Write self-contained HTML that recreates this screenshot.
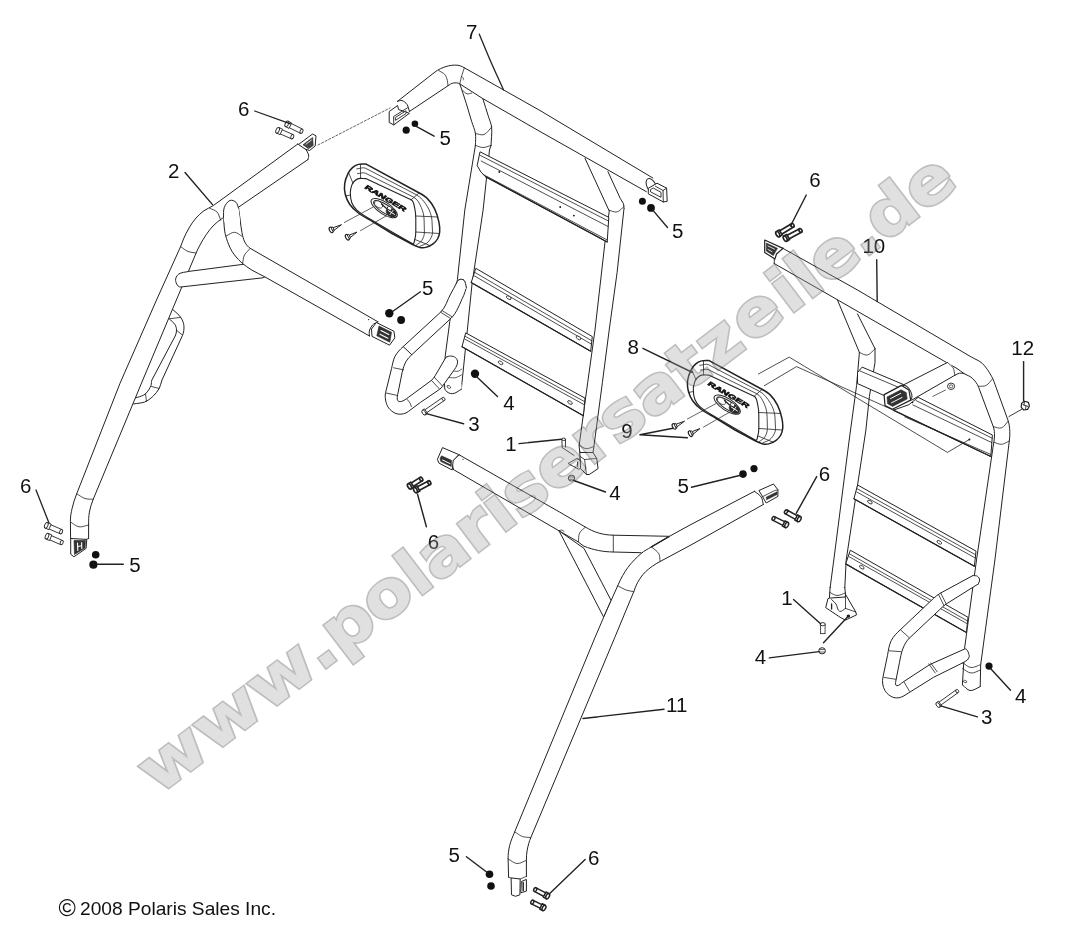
<!DOCTYPE html>
<html><head><meta charset="utf-8"><title>Polaris parts diagram</title>
<style>
html,body{margin:0;padding:0;background:#fff;}
body{width:1092px;height:943px;overflow:hidden;}
svg{display:block;}
svg text{font-family:"Liberation Sans",Arial,sans-serif;fill:#111;}
</style></head><body>
<svg width="1092" height="943" viewBox="0 0 1092 943">
<rect width="1092" height="943" fill="#fff"/>
<g style="opacity:0.999">
<path d="M173.2,309.9C175.7,312.3 178.6,314.3 180.6,317.2C182.3,319.7 183.6,322.5 183.9,325.5C184.2,328.9 183.8,332.5 182.4,335.6L162.0,380.0C160.8,382.6 160.7,385.8 159.3,388.3C157.6,391.3 155.4,394.1 152.8,396.5C150.4,398.7 147.7,400.8 144.6,402.0C141.1,403.3 137.3,403.3 133.6,403.9L131.0,398.5C133.1,398.1 135.2,398.0 137.2,397.4C140.1,396.5 143.2,395.8 145.5,393.8C148.0,391.6 149.6,388.5 151.0,385.5C151.8,383.8 151.0,381.6 151.9,380.0L175.2,336.0C176.1,334.2 176.5,332.1 176.5,330.1C176.5,328.2 176.0,326.2 175.0,324.6C173.6,322.4 171.3,320.9 169.5,319.1Z" fill="#fff" stroke="none"/>
<path d="M173.2,309.9C175.7,312.3 178.6,314.3 180.6,317.2C182.3,319.7 183.6,322.5 183.9,325.5C184.2,328.9 183.8,332.5 182.4,335.6L162.0,380.0C160.8,382.6 160.7,385.8 159.3,388.3C157.6,391.3 155.4,394.1 152.8,396.5C150.4,398.7 147.7,400.8 144.6,402.0C141.1,403.3 137.3,403.3 133.6,403.9" fill="none" stroke="#222" stroke-width="1.0" stroke-linecap="round" stroke-linejoin="round" />
<path d="M169.5,319.1C171.3,320.9 173.6,322.4 175.0,324.6C176.0,326.2 176.5,328.2 176.5,330.1C176.5,332.1 176.1,334.2 175.2,336.0L151.9,380.0C151.0,381.6 151.8,383.8 151.0,385.5C149.6,388.5 148.0,391.6 145.5,393.8C143.2,395.8 140.1,396.5 137.2,397.4C135.2,398.0 133.1,398.1 131.0,398.5" fill="none" stroke="#222" stroke-width="1.0" stroke-linecap="round" stroke-linejoin="round" />
<path d="M169.3,318.8L180.4,317.4" fill="none" stroke="#222" stroke-width="0.8" stroke-linecap="round" stroke-linejoin="round" />
<path d="M176.5,330.3L182.6,335.2" fill="none" stroke="#222" stroke-width="0.8" stroke-linecap="round" stroke-linejoin="round" />
<path d="M151.6,386.5L159.0,388.5" fill="none" stroke="#222" stroke-width="0.8" stroke-linecap="round" stroke-linejoin="round" />
<path d="M145.5,393.8L146.5,401.5" fill="none" stroke="#222" stroke-width="0.8" stroke-linecap="round" stroke-linejoin="round" />
<path d="M297.8,144.0L213.4,205.5C210.5,207.6 206.9,208.6 204.0,210.7C201.1,212.8 198.4,215.3 196.0,218.0C193.3,221.1 191.1,224.5 189.0,228.0C186.9,231.5 185.2,235.3 183.5,239.0C182.4,241.5 181.7,244.1 180.6,246.6L156.5,300.0L120.0,383.3L76.7,493.8C74.8,498.6 73.2,503.4 72.1,508.4C71.1,512.6 70.3,517.0 70.4,521.3L70.6,538.5L88.6,538.5L88.6,525.0C88.6,520.7 88.6,516.3 89.4,512.1C90.2,507.7 91.5,503.4 93.2,499.3L142.8,380.0L196.1,253.0C197.2,250.3 198.6,247.6 200.0,245.0C201.9,241.5 203.9,238.0 206.2,234.7C208.3,231.7 210.4,228.6 213.0,226.0C215.7,223.2 218.8,220.7 222.0,218.5L307.9,159.6Z" fill="#fff" stroke="none"/>
<path d="M297.8,144.0L213.4,205.5C210.5,207.6 206.9,208.6 204.0,210.7C201.1,212.8 198.4,215.3 196.0,218.0C193.3,221.1 191.1,224.5 189.0,228.0C186.9,231.5 185.2,235.3 183.5,239.0C182.4,241.5 181.7,244.1 180.6,246.6L156.5,300.0L120.0,383.3L76.7,493.8C74.8,498.6 73.2,503.4 72.1,508.4C71.1,512.6 70.3,517.0 70.4,521.3L70.6,538.5" fill="none" stroke="#222" stroke-width="1.0" stroke-linecap="round" stroke-linejoin="round" />
<path d="M307.9,159.6L222.0,218.5C218.8,220.7 215.7,223.2 213.0,226.0C210.4,228.6 208.3,231.7 206.2,234.7C203.9,238.0 201.9,241.5 200.0,245.0C198.6,247.6 197.2,250.3 196.1,253.0L142.8,380.0L93.2,499.3C91.5,503.4 90.2,507.7 89.4,512.1C88.6,516.3 88.6,520.7 88.6,525.0L88.6,538.5" fill="none" stroke="#222" stroke-width="1.0" stroke-linecap="round" stroke-linejoin="round" />
<path d="M297.8,144.0C300.0,145.3 302.7,146.1 304.5,148.0C306.4,149.9 307.8,152.4 308.6,155.0C309.0,156.5 308.1,158.1 307.9,159.6" fill="none" stroke="#222" stroke-width="1.0" stroke-linecap="round" stroke-linejoin="round" />
<path d="M209.7,208.3C212.1,209.5 215.1,210.0 217.0,212.0C219.0,214.2 219.5,217.5 220.7,220.2" fill="none" stroke="#222" stroke-width="0.8" stroke-linecap="round" stroke-linejoin="round" />
<path d="M180.6,246.6C183.1,248.2 185.3,250.4 188.0,251.5C190.5,252.5 193.4,252.5 196.1,253.0" fill="none" stroke="#222" stroke-width="0.8" stroke-linecap="round" stroke-linejoin="round" />
<path d="M76.7,493.8C79.5,495.4 82.0,497.5 85.0,498.5C87.6,499.4 90.5,499.0 93.2,499.3" fill="none" stroke="#222" stroke-width="0.8" stroke-linecap="round" stroke-linejoin="round" />
<path d="M70.6,522.0C73.4,523.6 75.8,526.3 79.0,526.8C82.2,527.3 85.4,525.6 88.6,525.0" fill="none" stroke="#222" stroke-width="0.8" stroke-linecap="round" stroke-linejoin="round" />
<path d="M70.6,538.5C73.4,539.5 76.0,541.5 79.0,541.5C82.4,541.5 85.4,539.5 88.6,538.5" fill="none" stroke="#222" stroke-width="0.8" stroke-linecap="round" stroke-linejoin="round" />
<path d="M188.8,271.4L241.1,264.6C246.1,263.9 251.3,266.3 255.8,268.6C259.4,270.5 268.6,275.1 264.9,276.9L263.1,277.8L180.6,287.0C177.9,287.3 176.0,283.3 175.6,280.6C175.3,278.2 176.7,275.5 178.7,274.1C181.6,272.1 185.4,272.3 188.8,271.4Z" fill="#fff" stroke="#222" stroke-width="1.0" stroke-linejoin="round"/>
<path d="M223.5,217.4L224.3,228.0C224.6,231.5 225.3,235.0 226.4,238.3C227.9,242.7 229.5,247.2 231.9,251.2C234.4,255.3 237.6,258.9 241.1,262.2C244.4,265.3 248.2,267.8 252.0,270.2C256.1,272.7 260.7,274.5 264.9,276.9L369.5,336.0L377.9,321.8L250.3,248.4C247.9,247.0 246.1,244.5 244.8,242.0C243.3,239.2 242.7,235.9 242.0,232.8C241.1,228.6 240.8,224.3 240.2,220.0L238.6,208.3Z" fill="#fff" stroke="none"/>
<path d="M223.5,217.4L224.3,228.0C224.6,231.5 225.3,235.0 226.4,238.3C227.9,242.7 229.5,247.2 231.9,251.2C234.4,255.3 237.6,258.9 241.1,262.2C244.4,265.3 248.2,267.8 252.0,270.2C256.1,272.7 260.7,274.5 264.9,276.9L369.5,336.0" fill="none" stroke="#222" stroke-width="1.0" stroke-linecap="round" stroke-linejoin="round" />
<path d="M238.6,208.3L240.2,220.0C240.8,224.3 241.1,228.6 242.0,232.8C242.7,235.9 243.3,239.2 244.8,242.0C246.1,244.5 247.9,247.0 250.3,248.4L377.9,321.8" fill="none" stroke="#222" stroke-width="1.0" stroke-linecap="round" stroke-linejoin="round" />
<path d="M223.5,217.4L224.0,206.5L227.0,202.0L230.0,200.8L234.0,201.2L237.4,204.0L238.6,208.3L240.2,222.0L224.2,222.0Z" fill="#fff" stroke="#222" stroke-width="0" stroke-linejoin="round"/>
<path d="M223.5,217.4C223.8,214.1 223.1,210.6 224.3,207.5C225.4,204.7 227.2,201.7 229.9,200.5C231.8,199.6 234.4,200.9 236.0,202.3C237.6,203.8 237.7,206.3 238.6,208.3" fill="none" stroke="#222" stroke-width="1.0" stroke-linecap="round" stroke-linejoin="round" />
<path d="M226.2,236.0C229.0,234.8 231.5,232.2 234.5,232.3C237.3,232.4 239.5,235.0 242.0,236.3" fill="none" stroke="#222" stroke-width="0.8" stroke-linecap="round" stroke-linejoin="round" />
<path d="M250.3,248.4C248.4,250.6 245.9,252.4 244.5,255.0C243.2,257.5 243.2,260.4 242.6,263.1" fill="none" stroke="#222" stroke-width="0.8" stroke-linecap="round" stroke-linejoin="round" />
<path d="M377.9,321.8C376.1,322.9 373.9,323.5 372.5,325.0C371.0,326.7 369.9,328.8 369.3,331.0C368.9,332.6 369.4,334.3 369.5,336.0" fill="none" stroke="#222" stroke-width="1.0" stroke-linecap="round" stroke-linejoin="round" />
<path d="M376.4,322.5L394.0,331.3L394.8,337.9L389.6,345.2L372.0,336.4L371.5,329.0Z" fill="#fff" stroke="#222" stroke-width="1.0" stroke-linejoin="round"/>
<path d="M379.0,326.0L391.5,332.3L389.8,342.2L376.8,335.8Z" fill="#333" stroke="#222" stroke-width="0.6" stroke-linejoin="round"/>
<path d="M381.0,330.5L388.8,334.5" fill="none" stroke="#fff" stroke-width="1.1" stroke-linecap="round" stroke-linejoin="round" />
<path d="M380.0,334.2L387.8,338.2" fill="none" stroke="#fff" stroke-width="1.1" stroke-linecap="round" stroke-linejoin="round" />
<circle cx="368.7" cy="319.6" r="0.7" fill="#111"/>
<path d="M298.5,144.5L312.5,134.0L316.0,135.8L315.2,146.0L309.5,150.5L305.0,149.0Z" fill="#fff" stroke="#222" stroke-width="1.0" stroke-linejoin="round"/>
<path d="M303.0,144.8L312.6,137.5L313.2,145.5L308.5,148.8Z" fill="#444" stroke="#222" stroke-width="0.6" stroke-linejoin="round"/>
<path d="M306.0,144.2L311.5,140.0" fill="none" stroke="#ddd" stroke-width="1" stroke-linecap="round" stroke-linejoin="round" />
<path d="M70.7,538.5L70.7,554.2L73.9,556.8L86.1,548.4L86.8,539.4Z" fill="#fff" stroke="#222" stroke-width="1.0" stroke-linejoin="round"/>
<path d="M74.0,540.5L85.5,540.5L85.0,548.0L74.5,554.5Z" fill="#333" stroke="#222" stroke-width="0.6" stroke-linejoin="round"/>
<path d="M77.5,543.0L77.8,550.5" fill="none" stroke="#fff" stroke-width="1.1" stroke-linecap="round" stroke-linejoin="round" />
<path d="M81.6,542.5L81.8,548.5" fill="none" stroke="#fff" stroke-width="1.1" stroke-linecap="round" stroke-linejoin="round" />
<path d="M77.6,546.5L81.7,545.8" fill="none" stroke="#fff" stroke-width="1" stroke-linecap="round" stroke-linejoin="round" />
<path d="M318,145 L390,108" fill="none" stroke="#222" stroke-width="0.7" stroke-linecap="round" stroke-linejoin="round" stroke-dasharray="2.2 1.8"/>
<path d="M276.7,132.4L291.4,138.8L293.2,134.6L278.5,128.2Z" fill="#fff" stroke="#222" stroke-width="0.9" stroke-linejoin="round"/>
<ellipse cx="292.3" cy="136.7" rx="1.4" ry="2.3" transform="rotate(23.527063947420913 292.3 136.7)" fill="#fff" stroke="#222" stroke-width="0.9"/>
<path d="M276.4,133.1L280.1,134.6L282.5,129.1L278.8,127.5Z" fill="#fff" stroke="#222" stroke-width="0.9" stroke-linejoin="round"/>
<ellipse cx="277.6" cy="130.3" rx="1.6" ry="3.0" transform="rotate(23.527063947420913 277.6 130.3)" fill="#fff" stroke="#222" stroke-width="0.9"/>
<path d="M285.8,126.0L300.5,133.3L302.5,129.1L287.8,121.8Z" fill="#fff" stroke="#222" stroke-width="0.9" stroke-linejoin="round"/>
<ellipse cx="301.5" cy="131.2" rx="1.4" ry="2.3" transform="rotate(26.408932273219662 301.5 131.2)" fill="#fff" stroke="#222" stroke-width="0.9"/>
<path d="M285.5,126.6L289.0,128.4L291.7,123.0L288.1,121.2Z" fill="#fff" stroke="#222" stroke-width="0.9" stroke-linejoin="round"/>
<ellipse cx="286.8" cy="123.9" rx="1.6" ry="3.0" transform="rotate(26.408932273219662 286.8 123.9)" fill="#fff" stroke="#222" stroke-width="0.9"/>
<path d="M254.7,111.0L290.5,123.9" fill="none" stroke="#222" stroke-width="1.3" stroke-linecap="round" stroke-linejoin="round" />
<path d="M45.4,527.4L60.2,533.8L62.0,529.6L47.2,523.2Z" fill="#fff" stroke="#222" stroke-width="0.9" stroke-linejoin="round"/>
<ellipse cx="61.1" cy="531.7" rx="1.4" ry="2.3" transform="rotate(23.385221057214046 61.1 531.7)" fill="#fff" stroke="#222" stroke-width="0.9"/>
<path d="M45.1,528.1L48.8,529.6L51.2,524.1L47.5,522.5Z" fill="#fff" stroke="#222" stroke-width="0.9" stroke-linejoin="round"/>
<ellipse cx="46.3" cy="525.3" rx="1.6" ry="3.0" transform="rotate(23.385221057214046 46.3 525.3)" fill="#fff" stroke="#222" stroke-width="0.9"/>
<path d="M46.1,538.3L60.8,544.7L62.6,540.5L47.9,534.1Z" fill="#fff" stroke="#222" stroke-width="0.9" stroke-linejoin="round"/>
<ellipse cx="61.7" cy="542.6" rx="1.4" ry="2.3" transform="rotate(23.527063947420896 61.7 542.6)" fill="#fff" stroke="#222" stroke-width="0.9"/>
<path d="M45.8,539.0L49.5,540.5L51.9,535.0L48.2,533.4Z" fill="#fff" stroke="#222" stroke-width="0.9" stroke-linejoin="round"/>
<ellipse cx="47" cy="536.2" rx="1.6" ry="3.0" transform="rotate(23.527063947420896 47 536.2)" fill="#fff" stroke="#222" stroke-width="0.9"/>
<path d="M36.0,490.0L48.9,522.7" fill="none" stroke="#222" stroke-width="1.3" stroke-linecap="round" stroke-linejoin="round" />
<circle cx="95.7" cy="554.8" r="3.8" fill="#111"/>
<circle cx="93.4" cy="564.7" r="4.1" fill="#111"/>
<path d="M97.0,564.2L123.3,564.2" fill="none" stroke="#222" stroke-width="1.4" stroke-linecap="round" stroke-linejoin="round" />
<circle cx="389.3" cy="313.3" r="4.2" fill="#111"/>
<circle cx="401.1" cy="320" r="3.9" fill="#111"/>
<path d="M392.6,311.5L420.4,291.8" fill="none" stroke="#222" stroke-width="1.4" stroke-linecap="round" stroke-linejoin="round" />
<path d="M185.0,172.5L212.5,204.6" fill="none" stroke="#222" stroke-width="1.4" stroke-linecap="round" stroke-linejoin="round" />
<path d="M475.4,145.4L464.8,210.0L457.4,279.7L449.8,321.4L445.2,356.2L444.4,387.4L461.3,389.3L462.0,382.5L472.1,283.4L483.1,210.0L489.5,150.0L491.0,145.4Z" fill="#fff" stroke="none"/>
<path d="M475.4,145.4L464.8,210.0L457.4,279.7L449.8,321.4L445.2,356.2L444.4,387.4" fill="none" stroke="#222" stroke-width="1.0" stroke-linecap="round" stroke-linejoin="round" />
<path d="M491.0,145.4L489.5,150.0L483.1,210.0L472.1,283.4L462.0,382.5L461.3,389.3" fill="none" stroke="#222" stroke-width="1.0" stroke-linecap="round" stroke-linejoin="round" />
<path d="M444.5,384.4C444.8,386.4 444.2,388.9 445.5,390.4C447.2,392.4 450.0,393.9 452.6,393.7C455.8,393.5 459.0,391.8 461.2,389.4C462.4,388.1 461.3,385.8 461.4,384.0Z" fill="#fff" stroke="#222" stroke-width="0" stroke-linejoin="round"/>
<path d="M444.5,384.4C444.8,386.4 444.2,388.9 445.5,390.4C447.2,392.4 450.0,393.9 452.6,393.7C455.8,393.5 458.3,390.8 461.2,389.4" fill="none" stroke="#222" stroke-width="1.0" stroke-linecap="round" stroke-linejoin="round" />
<path d="M454.0,371.0C455.3,371.1 456.7,371.6 458.0,371.3C459.4,370.9 460.5,369.8 461.8,369.0" fill="none" stroke="#222" stroke-width="0.7" stroke-linecap="round" stroke-linejoin="round" />
<path d="M449.2,377.6C451.5,377.6 453.8,378.1 456.0,377.6C458.0,377.1 459.7,375.7 461.6,374.8" fill="none" stroke="#222" stroke-width="0.7" stroke-linecap="round" stroke-linejoin="round" />
<ellipse cx="448.8" cy="386.9" rx="2.0" ry="1.2" transform="rotate(30 448.8 386.9)" fill="#fff" stroke="#222" stroke-width="0.7"/>
<path d="M459.8,83.9C461.9,90.3 464.2,96.7 466.2,103.2C468.1,109.3 469.8,115.5 471.7,121.6C472.9,125.6 474.8,129.4 475.4,133.5C476.0,137.4 475.4,141.4 475.4,145.4L491.0,145.4C491.2,139.3 492.2,133.2 491.6,127.1C491.2,123.3 489.4,119.8 488.3,116.1C486.5,110.3 484.6,104.4 482.8,98.6Z" fill="#fff" stroke="none"/>
<path d="M459.8,83.9C461.9,90.3 464.2,96.7 466.2,103.2C468.1,109.3 469.8,115.5 471.7,121.6C472.9,125.6 474.8,129.4 475.4,133.5C476.0,137.4 475.4,141.4 475.4,145.4" fill="none" stroke="#222" stroke-width="1.0" stroke-linecap="round" stroke-linejoin="round" />
<path d="M482.8,98.6C484.6,104.4 486.5,110.3 488.3,116.1C489.4,119.8 491.2,123.3 491.6,127.1C492.2,133.2 491.2,139.3 491.0,145.4" fill="none" stroke="#222" stroke-width="1.0" stroke-linecap="round" stroke-linejoin="round" />
<path d="M475.4,133.5C478.3,133.8 481.3,135.6 484.0,134.5C487.3,133.2 489.1,129.6 491.6,127.1" fill="none" stroke="#222" stroke-width="0.8" stroke-linecap="round" stroke-linejoin="round" />
<path d="M475.4,145.4C477.9,146.1 480.4,147.5 483.0,147.5C485.8,147.5 488.3,146.1 491.0,145.4" fill="none" stroke="#222" stroke-width="0.8" stroke-linecap="round" stroke-linejoin="round" />
<path d="M462.6,90.4C464.1,91.5 465.2,93.3 467.0,93.8C468.5,94.3 470.1,93.3 471.7,93.1" fill="none" stroke="#222" stroke-width="0.8" stroke-linecap="round" stroke-linejoin="round" />
<path d="M609.4,210.1L605.1,241.2L595.0,330.0L587.7,382.5L579.1,445.8L579.8,452.5L593.0,452.5L593.8,447.2L602.4,382.5L609.2,330.0L617.1,272.5L624.0,208.5Z" fill="#fff" stroke="none"/>
<path d="M609.4,210.1L605.1,241.2L595.0,330.0L587.7,382.5L579.1,445.8L579.8,452.5" fill="none" stroke="#222" stroke-width="1.0" stroke-linecap="round" stroke-linejoin="round" />
<path d="M624.0,208.5L617.1,272.5L609.2,330.0L602.4,382.5L593.8,447.2L593.0,452.5" fill="none" stroke="#222" stroke-width="1.0" stroke-linecap="round" stroke-linejoin="round" />
<path d="M585.0,158.3L608.8,210.1L624.0,208.5C623.8,206.8 624.0,205.1 623.4,203.5C622.7,201.7 621.1,200.3 620.3,198.5L607.9,171.6Z" fill="#fff" stroke="none"/>
<path d="M585.0,158.3L608.8,210.1" fill="none" stroke="#222" stroke-width="1.0" stroke-linecap="round" stroke-linejoin="round" />
<path d="M607.9,171.6L620.3,198.5C621.1,200.3 622.7,201.7 623.4,203.5C624.0,205.1 623.8,206.8 624.0,208.5" fill="none" stroke="#222" stroke-width="1.0" stroke-linecap="round" stroke-linejoin="round" />
<path d="M608.8,210.1C611.6,210.7 614.3,212.6 617.1,211.9C620.0,211.2 621.7,208.2 624.0,206.4" fill="none" stroke="#222" stroke-width="0.8" stroke-linecap="round" stroke-linejoin="round" />
<path d="M480.0,151.8L608.8,217.4L607.2,242.0L485.5,176.6L480.9,172.0L477.2,165.6Z" fill="#fff" stroke="#222" stroke-width="1.0" stroke-linejoin="round"/>
<path d="M607.2,242.0L485.5,176.6" fill="none" stroke="#222" stroke-width="1.3" stroke-linecap="round" stroke-linejoin="round" />
<path d="M480.5,155.5L608.6,221.1" fill="none" stroke="#222" stroke-width="0.8" stroke-linecap="round" stroke-linejoin="round" />
<path d="M481.2,161.0L608.2,226.6" fill="none" stroke="#222" stroke-width="0.8" stroke-linecap="round" stroke-linejoin="round" />
<path d="M483.0,174.4L607.3,240.0" fill="none" stroke="#222" stroke-width="0.8" stroke-linecap="round" stroke-linejoin="round" />
<circle cx="499.3" cy="172" r="0.9" fill="#111"/>
<circle cx="560.2" cy="207" r="0.9" fill="#111"/>
<circle cx="573.9" cy="215.6" r="0.9" fill="#111"/>
<path d="M475.8,268.3L592.3,336.6L590.7,351.2L471.2,282.5Z" fill="#fff" stroke="#222" stroke-width="1.0" stroke-linejoin="round"/>
<path d="M590.7,351.2L471.2,282.5" fill="none" stroke="#222" stroke-width="1.3" stroke-linecap="round" stroke-linejoin="round" />
<path d="M475.0,272.5L591.8,340.8" fill="none" stroke="#222" stroke-width="0.8" stroke-linecap="round" stroke-linejoin="round" />
<path d="M474.4,275.9L591.5,344.2" fill="none" stroke="#222" stroke-width="0.8" stroke-linecap="round" stroke-linejoin="round" />
<ellipse cx="508.8" cy="297.7" rx="2.6" ry="1.4" transform="rotate(32 508.8 297.7)" fill="#fff" stroke="#222" stroke-width="0.8"/>
<ellipse cx="578.5" cy="337.9" rx="2.6" ry="1.4" transform="rotate(32 578.5 337.9)" fill="#fff" stroke="#222" stroke-width="0.8"/>
<path d="M465.7,332.9L585.0,398.1L583.4,415.7L462.0,346.7Z" fill="#fff" stroke="#222" stroke-width="1.0" stroke-linejoin="round"/>
<path d="M583.4,415.7L462.0,346.7" fill="none" stroke="#222" stroke-width="1.3" stroke-linecap="round" stroke-linejoin="round" />
<path d="M465.2,336.3L584.7,401.7" fill="none" stroke="#222" stroke-width="0.8" stroke-linecap="round" stroke-linejoin="round" />
<path d="M464.9,339.1L584.4,404.8" fill="none" stroke="#222" stroke-width="0.8" stroke-linecap="round" stroke-linejoin="round" />
<ellipse cx="500.6" cy="362.8" rx="2.6" ry="1.4" transform="rotate(32 500.6 362.8)" fill="#fff" stroke="#222" stroke-width="0.8"/>
<ellipse cx="570" cy="402.5" rx="2.6" ry="1.4" transform="rotate(32 570 402.5)" fill="#fff" stroke="#222" stroke-width="0.8"/>
<path d="M397.4,101.4L435.0,72.0C438.3,69.5 442.2,67.7 446.1,66.5C449.6,65.4 453.4,64.9 457.1,65.2C459.7,65.4 462.2,66.5 464.4,67.8L540.0,110.5L652.8,178.0L646.4,191.7L540.0,131.5L482.8,98.6L459.8,83.9C458.0,82.7 455.5,82.7 453.4,83.0C451.4,83.3 449.6,84.7 447.9,85.8L409.4,111.5Z" fill="#fff" stroke="none"/>
<path d="M397.4,101.4L435.0,72.0C438.3,69.5 442.2,67.7 446.1,66.5C449.6,65.4 453.4,64.9 457.1,65.2C459.7,65.4 462.2,66.5 464.4,67.8L540.0,110.5L652.8,178.0" fill="none" stroke="#222" stroke-width="1.0" stroke-linecap="round" stroke-linejoin="round" />
<path d="M409.4,111.5L447.9,85.8C449.6,84.7 451.4,83.3 453.4,83.0C455.5,82.7 458.0,82.7 459.8,83.9L482.8,98.6L540.0,131.5L646.4,191.7" fill="none" stroke="#222" stroke-width="1.0" stroke-linecap="round" stroke-linejoin="round" />
<path d="M438.7,70.6C440.7,71.9 443.2,72.7 444.8,74.5C446.2,76.1 446.8,78.4 447.4,80.5C447.9,82.2 447.7,84.0 447.9,85.8" fill="none" stroke="#222" stroke-width="0.8" stroke-linecap="round" stroke-linejoin="round" />
<path d="M464.4,67.8C463.5,70.4 462.5,73.0 461.7,75.7C460.9,78.4 460.4,81.2 459.8,83.9" fill="none" stroke="#222" stroke-width="0.8" stroke-linecap="round" stroke-linejoin="round" />
<path d="M461.5,76.5L463.5,78.0L463.2,80.0" fill="none" stroke="#222" stroke-width="0.6" stroke-linecap="round" stroke-linejoin="round" />
<path d="M397.4,101.4C398.9,101.1 400.5,100.0 402.0,100.5C404.0,101.2 405.8,102.7 407.0,104.5C408.4,106.5 408.6,109.2 409.4,111.5" fill="none" stroke="#222" stroke-width="1.0" stroke-linecap="round" stroke-linejoin="round" />
<path d="M389.2,111.5L397.6,105.5L398.5,109.5L409.4,113.3L393.8,124.9L389.2,122.5Z" fill="#fff" stroke="#222" stroke-width="1.0" stroke-linejoin="round"/>
<path d="M393.8,124.9L393.6,116.5L407.5,107.8" fill="none" stroke="#222" stroke-width="0.9" stroke-linecap="round" stroke-linejoin="round" />
<path d="M395.3,117.5L406.0,110.8L406.0,113.6L395.5,120.3Z" fill="#fff" stroke="#222" stroke-width="0.9" stroke-linejoin="round"/>
<ellipse cx="651.3" cy="185.6" rx="4.4" ry="7.6" transform="rotate(-28 651.3 185.6)" fill="#fff" stroke="#222" stroke-width="1.0"/>
<path d="M648.3,188.3L657.0,183.2L666.6,188.1L667.2,201.3L663.3,202.0L648.3,193.8Z" fill="#fff" stroke="#222" stroke-width="1.0" stroke-linejoin="round"/>
<path d="M663.3,202.0L663.0,190.5L666.6,188.1" fill="none" stroke="#222" stroke-width="0.9" stroke-linecap="round" stroke-linejoin="round" />
<path d="M663.0,190.5L655.5,186.3" fill="none" stroke="#222" stroke-width="0.9" stroke-linecap="round" stroke-linejoin="round" />
<path d="M650.5,189.6L653.2,188.0L661.0,192.3L661.0,197.3L650.5,191.8Z" fill="#fff" stroke="#222" stroke-width="0.9" stroke-linejoin="round"/>
<path d="M456.2,283.8C454.4,287.2 452.5,290.5 450.7,293.9C447.3,300.0 445.7,307.5 440.6,312.2L403.2,346.6C400.1,349.4 397.1,352.5 395.1,356.2C393.1,359.9 392.6,364.2 391.6,368.3L385.6,392.5C384.8,395.7 385.3,399.3 386.1,402.5C386.8,405.1 388.1,407.7 390.1,409.6C392.3,411.7 395.1,413.8 398.2,414.1C401.6,414.5 405.5,413.7 408.2,411.6L420.3,402.5L439.5,389.4C441.7,387.9 443.0,385.5 444.5,383.4L454.6,369.3C456.1,367.2 457.4,364.8 457.6,362.2C457.7,360.6 456.8,358.8 455.6,357.7C454.3,356.5 452.3,356.1 450.5,356.0C448.9,355.9 447.5,356.8 446.0,357.2L446.0,357.2L435.4,375.3C434.3,377.2 433.1,379.1 431.4,380.4L408.2,397.5C406.0,399.1 403.8,400.8 401.2,401.5C400.0,401.8 398.2,401.6 397.7,400.5C396.8,398.7 397.3,396.5 397.7,394.5L402.2,372.3C403.0,368.4 404.3,364.7 406.2,361.2C407.6,358.7 409.7,356.6 411.8,354.7L450.7,318.6C457.1,312.6 459.7,303.5 463.6,295.7C464.9,293.1 465.4,290.2 466.3,287.4Z" fill="#fff" stroke="none"/>
<path d="M456.2,283.8C454.4,287.2 452.5,290.5 450.7,293.9C447.3,300.0 445.7,307.5 440.6,312.2L403.2,346.6C400.1,349.4 397.1,352.5 395.1,356.2C393.1,359.9 392.6,364.2 391.6,368.3L385.6,392.5C384.8,395.7 385.3,399.3 386.1,402.5C386.8,405.1 388.1,407.7 390.1,409.6C392.3,411.7 395.1,413.8 398.2,414.1C401.6,414.5 405.5,413.7 408.2,411.6L420.3,402.5L439.5,389.4C441.7,387.9 443.0,385.5 444.5,383.4L454.6,369.3C456.1,367.2 457.4,364.8 457.6,362.2C457.7,360.6 456.8,358.8 455.6,357.7C454.3,356.5 452.3,356.1 450.5,356.0C448.9,355.9 447.5,356.8 446.0,357.2" fill="none" stroke="#222" stroke-width="1.0" stroke-linecap="round" stroke-linejoin="round" />
<path d="M466.3,287.4C465.4,290.2 464.9,293.1 463.6,295.7C459.7,303.5 457.1,312.6 450.7,318.6L411.8,354.7C409.7,356.6 407.6,358.7 406.2,361.2C404.3,364.7 403.0,368.4 402.2,372.3L397.7,394.5C397.3,396.5 396.8,398.7 397.7,400.5C398.2,401.6 400.0,401.8 401.2,401.5C403.8,400.8 406.0,399.1 408.2,397.5L431.4,380.4C433.1,379.1 434.3,377.2 435.4,375.3L446.0,357.2" fill="none" stroke="#222" stroke-width="1.0" stroke-linecap="round" stroke-linejoin="round" />
<path d="M456.2,283.8C457.1,282.5 457.5,280.5 459.0,279.8C460.5,279.1 462.8,279.1 464.0,280.3C465.7,282.1 465.5,285.0 466.3,287.4" fill="none" stroke="#222" stroke-width="1.0" stroke-linecap="round" stroke-linejoin="round" />
<path d="M456.2,283.8C457.1,282.5 457.5,280.5 459.0,279.8C460.5,279.1 462.8,279.1 464.0,280.3C465.7,282.1 467.1,285.0 466.3,287.4C465.5,289.9 462.1,290.5 460.0,292.0Z" fill="#fff" stroke="#222" stroke-width="0" stroke-linejoin="round"/>
<path d="M456.2,283.8C457.1,282.5 457.5,280.5 459.0,279.8C460.5,279.1 462.8,279.1 464.0,280.3C465.7,282.1 465.5,285.0 466.3,287.4" fill="none" stroke="#222" stroke-width="1.0" stroke-linecap="round" stroke-linejoin="round" />
<path d="M440.6,312.2L450.7,318.6" fill="none" stroke="#222" stroke-width="0.8" stroke-linecap="round" stroke-linejoin="round" />
<path d="M442.0,310.5L452.0,316.8" fill="none" stroke="#222" stroke-width="0.8" stroke-linecap="round" stroke-linejoin="round" />
<path d="M403.2,346.6L411.8,354.7" fill="none" stroke="#222" stroke-width="1.0" stroke-linecap="round" stroke-linejoin="round" />
<path d="M393.6,367.8L403.7,369.8" fill="none" stroke="#222" stroke-width="0.8" stroke-linecap="round" stroke-linejoin="round" />
<path d="M386.1,393.0L397.7,395.5" fill="none" stroke="#222" stroke-width="0.8" stroke-linecap="round" stroke-linejoin="round" />
<path d="M407.2,399.5C408.1,400.7 409.3,401.7 410.0,403.0C410.6,404.1 410.9,405.4 411.3,406.6" fill="none" stroke="#222" stroke-width="0.8" stroke-linecap="round" stroke-linejoin="round" />
<path d="M431.4,380.4L439.5,389.0" fill="none" stroke="#222" stroke-width="0.8" stroke-linecap="round" stroke-linejoin="round" />
<path d="M434.4,377.3L442.5,386.0" fill="none" stroke="#222" stroke-width="0.8" stroke-linecap="round" stroke-linejoin="round" />
<circle cx="406.2" cy="130.2" r="3.6" fill="#111"/>
<circle cx="414.9" cy="123.8" r="3.3" fill="#111"/>
<path d="M415.8,126.1L434.1,136.2" fill="none" stroke="#222" stroke-width="1.4" stroke-linecap="round" stroke-linejoin="round" />
<circle cx="642.4" cy="201.3" r="3.5" fill="#111"/>
<circle cx="651" cy="207.9" r="3.9" fill="#111"/>
<path d="M652.8,210.1L667.5,227.5" fill="none" stroke="#222" stroke-width="1.4" stroke-linecap="round" stroke-linejoin="round" />
<circle cx="475" cy="373.8" r="4.2" fill="#111"/>
<path d="M476.4,376.4L497.5,396.6" fill="none" stroke="#222" stroke-width="1.4" stroke-linecap="round" stroke-linejoin="round" />
<path d="M424.9,414.0L444.5,400.4L442.5,397.6L422.9,411.2Z" fill="#fff" stroke="#222" stroke-width="0.9" stroke-linejoin="round"/>
<ellipse cx="443.5" cy="399" rx="1.4" ry="1.7" transform="rotate(-34.755912553541386 443.5 399)" fill="#fff" stroke="#222" stroke-width="0.9"/>
<path d="M425.5,414.9L427.6,413.4L424.4,408.8L422.3,410.3Z" fill="#fff" stroke="#222" stroke-width="0.9" stroke-linejoin="round"/>
<ellipse cx="423.9" cy="412.6" rx="1.6" ry="2.8" transform="rotate(-34.755912553541386 423.9 412.6)" fill="#fff" stroke="#222" stroke-width="0.9"/>
<path d="M426.4,413.6L463.6,423.7" fill="none" stroke="#222" stroke-width="1.4" stroke-linecap="round" stroke-linejoin="round" />
<path d="M479.3,34.2C483.0,43.1 486.6,52.1 490.5,61.0C494.7,70.7 499.2,80.3 503.5,89.9" fill="none" stroke="#222" stroke-width="1.3" stroke-linecap="round" stroke-linejoin="round" />
<path d="M559.0,530.8L603.7,617.2L611.1,600.4L584.0,548.4Z" fill="#fff" stroke="#222" stroke-width="1.0" stroke-linejoin="round"/>
<path d="M459.3,454.9L559.7,512.1L585.4,527.1C589.6,529.5 594.0,531.7 598.6,533.0C603.4,534.4 608.3,535.1 613.3,535.2L668.9,536.3L641.1,552.7L613.3,552.0C608.4,551.9 603.4,551.5 598.6,550.5C593.6,549.5 588.7,548.2 584.0,546.2C581.7,545.2 580.2,543.0 578.1,541.8L559.0,530.8L453.5,469.6Z" fill="#fff" stroke="none"/>
<path d="M459.3,454.9L559.7,512.1L585.4,527.1C589.6,529.5 594.0,531.7 598.6,533.0C603.4,534.4 608.3,535.1 613.3,535.2L668.9,536.3" fill="none" stroke="#222" stroke-width="1.0" stroke-linecap="round" stroke-linejoin="round" />
<path d="M453.5,469.6L559.0,530.8L578.1,541.8C580.2,543.0 581.7,545.2 584.0,546.2C588.7,548.2 593.6,549.5 598.6,550.5C603.4,551.5 608.4,551.9 613.3,552.0L641.1,552.7" fill="none" stroke="#222" stroke-width="1.0" stroke-linecap="round" stroke-linejoin="round" />
<path d="M459.3,454.9C457.1,457.1 453.8,458.6 452.6,461.5C451.6,464.0 453.2,466.9 453.5,469.6" fill="none" stroke="#222" stroke-width="1.0" stroke-linecap="round" stroke-linejoin="round" />
<path d="M585.4,527.1C583.5,529.1 580.8,530.5 579.6,533.0C578.3,535.7 578.8,538.9 578.4,541.8" fill="none" stroke="#222" stroke-width="0.8" stroke-linecap="round" stroke-linejoin="round" />
<path d="M613.3,535.2L613.3,552.0" fill="none" stroke="#222" stroke-width="0.8" stroke-linecap="round" stroke-linejoin="round" />
<path d="M559.0,530.8C559.8,530.5 560.6,529.9 561.5,530.0C562.5,530.1 563.2,531.0 564.0,531.5" fill="none" stroke="#222" stroke-width="0.8" stroke-linecap="round" stroke-linejoin="round" />
<path d="M442.5,447.6L458.8,454.6L453.2,460.5L452.2,470.0L438.8,463.0L437.4,459.3Z" fill="#fff" stroke="#222" stroke-width="1.0" stroke-linejoin="round"/>
<path d="M440.0,458.5L441.5,455.8L451.5,460.3L451.3,466.6L440.8,461.6Z" fill="#333" stroke="#222" stroke-width="0.5" stroke-linejoin="round"/>
<path d="M442.5,460.0L450.0,463.6" fill="none" stroke="#fff" stroke-width="1" stroke-linecap="round" stroke-linejoin="round" />
<circle cx="463" cy="459.3" r="0.6" fill="#111"/>
<path d="M754.5,491.3L690.0,525.0L668.9,536.6L651.4,546.9C647.9,549.0 644.2,550.8 641.1,553.5C636.3,557.7 631.7,562.3 627.9,567.4C624.1,572.6 621.0,578.3 618.4,584.2L603.7,617.2L594.9,637.7L514.7,831.8C512.8,836.4 510.8,840.9 509.6,845.7C508.6,850.0 508.0,854.5 508.1,858.9L508.6,877.2L526.4,876.4L526.4,860.3C526.4,856.9 526.6,853.4 527.2,850.1C528.0,845.8 529.1,841.6 530.8,837.6L614.7,637.7L633.8,591.6C635.0,588.7 635.8,585.5 637.4,582.8C639.7,578.9 642.2,574.9 645.5,571.8C649.8,567.7 654.8,564.3 660.1,561.5L690.0,545.5L763.3,504.5Z" fill="#fff" stroke="none"/>
<path d="M754.5,491.3L690.0,525.0L668.9,536.6L651.4,546.9C647.9,549.0 644.2,550.8 641.1,553.5C636.3,557.7 631.7,562.3 627.9,567.4C624.1,572.6 621.0,578.3 618.4,584.2L603.7,617.2L594.9,637.7L514.7,831.8C512.8,836.4 510.8,840.9 509.6,845.7C508.6,850.0 508.0,854.5 508.1,858.9L508.6,877.2" fill="none" stroke="#222" stroke-width="1.0" stroke-linecap="round" stroke-linejoin="round" />
<path d="M763.3,504.5L690.0,545.5L660.1,561.5C654.8,564.3 649.8,567.7 645.5,571.8C642.2,574.9 639.7,578.9 637.4,582.8C635.8,585.5 635.0,588.7 633.8,591.6L614.7,637.7L530.8,837.6C529.1,841.6 528.0,845.8 527.2,850.1C526.6,853.4 526.4,856.9 526.4,860.3L526.4,876.4" fill="none" stroke="#222" stroke-width="1.0" stroke-linecap="round" stroke-linejoin="round" />
<path d="M754.5,491.3C756.7,493.2 759.6,494.6 761.2,497.1C762.6,499.2 762.6,502.0 763.3,504.5" fill="none" stroke="#222" stroke-width="1.0" stroke-linecap="round" stroke-linejoin="round" />
<path d="M651.4,546.9C653.8,549.1 657.0,550.7 658.7,553.5C660.1,555.8 659.6,558.8 660.1,561.5" fill="none" stroke="#222" stroke-width="0.8" stroke-linecap="round" stroke-linejoin="round" />
<path d="M651.4,546.9L668.9,536.6" fill="none" stroke="#222" stroke-width="1.3" stroke-linecap="round" stroke-linejoin="round" />
<path d="M617.7,585.7C620.5,587.1 623.1,588.9 626.0,590.0C628.5,590.9 631.2,591.1 633.8,591.6" fill="none" stroke="#222" stroke-width="0.8" stroke-linecap="round" stroke-linejoin="round" />
<path d="M514.7,831.8C517.3,833.4 519.6,835.5 522.5,836.5C525.1,837.4 528.0,837.2 530.8,837.6" fill="none" stroke="#222" stroke-width="0.8" stroke-linecap="round" stroke-linejoin="round" />
<path d="M508.1,858.9C511.1,860.4 513.7,863.2 517.0,863.5C520.3,863.8 523.3,861.4 526.4,860.3" fill="none" stroke="#222" stroke-width="0.8" stroke-linecap="round" stroke-linejoin="round" />
<path d="M508.6,877.2C511.4,878.0 514.1,879.7 517.0,879.6C520.3,879.5 523.3,877.5 526.4,876.4" fill="none" stroke="#222" stroke-width="0.8" stroke-linecap="round" stroke-linejoin="round" />
<path d="M758.9,490.5L773.5,484.0L777.9,489.8L777.9,496.4L766.2,503.0L762.5,496.5Z" fill="#fff" stroke="#222" stroke-width="1.0" stroke-linejoin="round"/>
<path d="M762.0,497.0L774.5,490.6L777.9,489.8" fill="none" stroke="#222" stroke-width="0.8" stroke-linecap="round" stroke-linejoin="round" />
<path d="M766.2,497.2L777.0,491.8L777.0,494.6L766.6,499.8Z" fill="#333" stroke="#222" stroke-width="0.5" stroke-linejoin="round"/>
<path d="M511.1,877.9L511.5,894.8L515.5,896.3L519.9,894.8L520.2,879.0Z" fill="#fff" stroke="#222" stroke-width="1.0" stroke-linejoin="round"/>
<path d="M521.3,881.6L526.4,879.4L526.4,891.1L520.8,892.8Z" fill="#fff" stroke="#222" stroke-width="1.0" stroke-linejoin="round"/>
<path d="M523.2,882.5L523.2,890.5" fill="none" stroke="#333" stroke-width="1.6" stroke-linecap="round" stroke-linejoin="round" />
<circle cx="743" cy="474.1" r="3.8" fill="#111"/>
<circle cx="754" cy="468.6" r="3.6" fill="#111"/>
<path d="M691.5,487.2L740.5,475.2" fill="none" stroke="#222" stroke-width="1.4" stroke-linecap="round" stroke-linejoin="round" />
<circle cx="489.5" cy="874.2" r="3.8" fill="#111"/>
<circle cx="491" cy="886" r="3.8" fill="#111"/>
<path d="M466.4,856.7L487.6,872.8" fill="none" stroke="#222" stroke-width="1.4" stroke-linecap="round" stroke-linejoin="round" />
<path d="M410.6,488.1L422.3,480.8L420.1,477.4L408.4,484.7Z" fill="#fff" stroke="#222" stroke-width="1.7" stroke-linejoin="round"/>
<ellipse cx="421.2" cy="479.1" rx="1.4" ry="2.0" transform="rotate(-31.9613434169769 421.2 479.1)" fill="#fff" stroke="#222" stroke-width="1.7"/>
<path d="M411.0,488.9L413.9,487.1L410.8,482.1L408.0,483.9Z" fill="#fff" stroke="#222" stroke-width="1.7" stroke-linejoin="round"/>
<ellipse cx="409.5" cy="486.4" rx="1.6" ry="2.9" transform="rotate(-31.9613434169769 409.5 486.4)" fill="#fff" stroke="#222" stroke-width="1.7"/>
<path d="M416.3,491.9L430.2,484.5L428.4,480.9L414.5,488.3Z" fill="#fff" stroke="#222" stroke-width="1.7" stroke-linejoin="round"/>
<ellipse cx="429.3" cy="482.7" rx="1.4" ry="2.0" transform="rotate(-28.029680982283413 429.3 482.7)" fill="#fff" stroke="#222" stroke-width="1.7"/>
<path d="M416.8,492.7L419.8,491.1L417.0,485.9L414.0,487.5Z" fill="#fff" stroke="#222" stroke-width="1.7" stroke-linejoin="round"/>
<ellipse cx="415.4" cy="490.1" rx="1.6" ry="2.9" transform="rotate(-28.029680982283413 415.4 490.1)" fill="#fff" stroke="#222" stroke-width="1.7"/>
<path d="M417.6,494.5L426.4,526.7" fill="none" stroke="#222" stroke-width="1.4" stroke-linecap="round" stroke-linejoin="round" />
<path d="M800.2,517.3L787.0,510.0L785.0,513.6L798.2,520.9Z" fill="#fff" stroke="#222" stroke-width="1.5" stroke-linejoin="round"/>
<ellipse cx="786" cy="511.8" rx="1.4" ry="2.0" transform="rotate(-151.05607659939847 786 511.8)" fill="#fff" stroke="#222" stroke-width="1.5"/>
<path d="M800.6,516.6L797.6,514.9L794.8,520.0L797.8,521.6Z" fill="#fff" stroke="#222" stroke-width="1.5" stroke-linejoin="round"/>
<ellipse cx="799.2" cy="519.1" rx="1.6" ry="2.9" transform="rotate(-151.05607659939847 799.2 519.1)" fill="#fff" stroke="#222" stroke-width="1.5"/>
<path d="M787.6,523.2L774.4,516.6L772.6,520.2L785.8,526.8Z" fill="#fff" stroke="#222" stroke-width="1.5" stroke-linejoin="round"/>
<ellipse cx="773.5" cy="518.4" rx="1.4" ry="2.0" transform="rotate(-153.434948822922 773.5 518.4)" fill="#fff" stroke="#222" stroke-width="1.5"/>
<path d="M788.0,522.4L785.0,520.9L782.4,526.1L785.4,527.6Z" fill="#fff" stroke="#222" stroke-width="1.5" stroke-linejoin="round"/>
<ellipse cx="786.7" cy="525" rx="1.6" ry="2.9" transform="rotate(-153.434948822922 786.7 525)" fill="#fff" stroke="#222" stroke-width="1.5"/>
<path d="M796.2,513.3L816.7,476.6" fill="none" stroke="#222" stroke-width="1.4" stroke-linecap="round" stroke-linejoin="round" />
<path d="M548.6,894.4L536.1,887.8L534.3,891.4L546.8,898.0Z" fill="#fff" stroke="#222" stroke-width="1.5" stroke-linejoin="round"/>
<ellipse cx="535.2" cy="889.6" rx="1.4" ry="2.0" transform="rotate(-152.16594605944908 535.2 889.6)" fill="#fff" stroke="#222" stroke-width="1.5"/>
<path d="M549.1,893.6L546.0,892.0L543.3,897.2L546.3,898.8Z" fill="#fff" stroke="#222" stroke-width="1.5" stroke-linejoin="round"/>
<ellipse cx="547.7" cy="896.2" rx="1.6" ry="2.9" transform="rotate(-152.16594605944908 547.7 896.2)" fill="#fff" stroke="#222" stroke-width="1.5"/>
<path d="M544.9,906.1L533.2,900.3L531.4,903.9L543.1,909.7Z" fill="#fff" stroke="#222" stroke-width="1.5" stroke-linejoin="round"/>
<ellipse cx="532.3" cy="902.1" rx="1.4" ry="2.0" transform="rotate(-153.63116647881623 532.3 902.1)" fill="#fff" stroke="#222" stroke-width="1.5"/>
<path d="M545.3,905.3L542.2,903.8L539.7,909.0L542.7,910.5Z" fill="#fff" stroke="#222" stroke-width="1.5" stroke-linejoin="round"/>
<ellipse cx="544" cy="907.9" rx="1.6" ry="2.9" transform="rotate(-153.63116647881623 544 907.9)" fill="#fff" stroke="#222" stroke-width="1.5"/>
<path d="M549.2,894.0L585.1,859.6" fill="none" stroke="#222" stroke-width="1.4" stroke-linecap="round" stroke-linejoin="round" />
<path d="M583.0,718.5L664.0,709.3" fill="none" stroke="#222" stroke-width="1.4" stroke-linecap="round" stroke-linejoin="round" />
<path d="M859.4,352.4L856.6,385.4L849.2,440.0L833.8,560.0L830.1,587.8L844.8,587.8L846.2,560.0L865.9,430.0L869.4,396.4L875.0,362.5L875.0,348.7Z" fill="#fff" stroke="none"/>
<path d="M859.4,352.4L856.6,385.4L849.2,440.0L833.8,560.0L830.1,587.8" fill="none" stroke="#222" stroke-width="1.0" stroke-linecap="round" stroke-linejoin="round" />
<path d="M875.0,348.7L875.0,362.5L869.4,396.4L865.9,430.0L846.2,560.0L844.8,587.8" fill="none" stroke="#222" stroke-width="1.0" stroke-linecap="round" stroke-linejoin="round" />
<path d="M837.2,299.4L859.4,352.4L875.0,348.7L857.5,313.9Z" fill="#fff" stroke="none"/>
<path d="M837.2,299.4L859.4,352.4" fill="none" stroke="#222" stroke-width="1.0" stroke-linecap="round" stroke-linejoin="round" />
<path d="M857.5,313.9L875.0,348.7" fill="none" stroke="#222" stroke-width="1.0" stroke-linecap="round" stroke-linejoin="round" />
<path d="M859.4,352.4C862.1,353.3 864.7,355.7 867.5,355.0C870.7,354.2 872.5,350.8 875.0,348.7" fill="none" stroke="#222" stroke-width="0.8" stroke-linecap="round" stroke-linejoin="round" />
<path d="M830.1,587.8C832.4,588.7 834.5,590.5 837.0,590.5C839.8,590.5 842.2,588.7 844.8,587.8" fill="none" stroke="#222" stroke-width="0.8" stroke-linecap="round" stroke-linejoin="round" />
<path d="M829.6,588.0L829.4,598.1L845.5,597.0L845.0,588.0Z" fill="#fff" stroke="#222" stroke-width="0" stroke-linejoin="round"/>
<path d="M830.1,587.8L829.4,598.1" fill="none" stroke="#222" stroke-width="1.0" stroke-linecap="round" stroke-linejoin="round" />
<path d="M844.8,587.8L845.5,594.4" fill="none" stroke="#222" stroke-width="1.0" stroke-linecap="round" stroke-linejoin="round" />
<path d="M829.4,598.1L827.9,598.8L825.7,607.6L841.1,617.9L845.5,620.1L856.5,614.9L855.8,612.0L845.5,594.4L845.3,597.0Z" fill="#fff" stroke="#222" stroke-width="1.0" stroke-linejoin="round"/>
<path d="M829.6,592.4C832.1,593.4 834.3,595.4 837.0,595.5C839.9,595.6 842.5,593.8 845.3,593.0" fill="none" stroke="#222" stroke-width="0.8" stroke-linecap="round" stroke-linejoin="round" />
<path d="M831.6,599.6C833.1,601.1 834.8,602.3 836.0,604.0C837.5,606.2 837.1,610.2 839.6,611.3C841.6,612.2 843.5,609.4 845.5,608.4" fill="none" stroke="#222" stroke-width="0.9" stroke-linecap="round" stroke-linejoin="round" />
<path d="M845.5,608.4L855.8,612.0" fill="none" stroke="#222" stroke-width="0.8" stroke-linecap="round" stroke-linejoin="round" />
<path d="M845.5,594.4L845.5,608.4" fill="none" stroke="#222" stroke-width="0.8" stroke-linecap="round" stroke-linejoin="round" />
<path d="M831.6,604.0L831.6,609.0" fill="none" stroke="#222" stroke-width="1.3" stroke-linecap="round" stroke-linejoin="round" />
<circle cx="848.4" cy="616.1" r="1.7" fill="#111"/>
<path d="M862.1,367.1L903.4,384.5L884.1,395.5L857.5,383.6L857.5,372.6Z" fill="#fff" stroke="#222" stroke-width="1.0" stroke-linejoin="round"/>
<path d="M859.8,370.9L900.6,388.2" fill="none" stroke="#222" stroke-width="0.8" stroke-linecap="round" stroke-linejoin="round" />
<path d="M918.1,397.3L992.4,435.0L990.8,456.5L893.3,410.2L908.9,404.7Z" fill="#fff" stroke="#222" stroke-width="1.0" stroke-linejoin="round"/>
<path d="M990.8,456.5L893.3,410.2" fill="none" stroke="#222" stroke-width="1.3" stroke-linecap="round" stroke-linejoin="round" />
<path d="M915.9,400.5L992.2,438.2" fill="none" stroke="#222" stroke-width="0.8" stroke-linecap="round" stroke-linejoin="round" />
<path d="M912.8,404.9L991.8,442.6" fill="none" stroke="#222" stroke-width="0.8" stroke-linecap="round" stroke-linejoin="round" />
<path d="M904.6,416.8L990.9,454.5" fill="none" stroke="#222" stroke-width="0.8" stroke-linecap="round" stroke-linejoin="round" />
<path d="M857.6,485.0L976.0,551.1L974.4,566.3L853.9,498.8Z" fill="#fff" stroke="#222" stroke-width="1.0" stroke-linejoin="round"/>
<path d="M974.4,566.3L853.9,498.8" fill="none" stroke="#222" stroke-width="1.3" stroke-linecap="round" stroke-linejoin="round" />
<path d="M857.1,488.7L975.6,554.8" fill="none" stroke="#222" stroke-width="0.8" stroke-linecap="round" stroke-linejoin="round" />
<path d="M856.6,491.9L975.3,558.0" fill="none" stroke="#222" stroke-width="0.8" stroke-linecap="round" stroke-linejoin="round" />
<ellipse cx="869.9" cy="502.1" rx="2.6" ry="1.4" transform="rotate(32 869.9 502.1)" fill="#fff" stroke="#222" stroke-width="0.8"/>
<ellipse cx="939.3" cy="542.3" rx="2.6" ry="1.4" transform="rotate(32 939.3 542.3)" fill="#fff" stroke="#222" stroke-width="0.8"/>
<path d="M850.3,550.2L968.0,617.3L966.4,632.5L845.7,563.9Z" fill="#fff" stroke="#222" stroke-width="1.0" stroke-linejoin="round"/>
<path d="M966.4,632.5L845.7,563.9" fill="none" stroke="#222" stroke-width="1.3" stroke-linecap="round" stroke-linejoin="round" />
<path d="M849.6,553.9L967.6,621.0" fill="none" stroke="#222" stroke-width="0.8" stroke-linecap="round" stroke-linejoin="round" />
<path d="M849.1,556.7L967.3,623.8" fill="none" stroke="#222" stroke-width="0.8" stroke-linecap="round" stroke-linejoin="round" />
<ellipse cx="861.8" cy="567.2" rx="2.6" ry="1.4" transform="rotate(32 861.8 567.2)" fill="#fff" stroke="#222" stroke-width="0.8"/>
<path d="M783.0,248.4L857.5,290.0L971.3,357.0C975.0,359.2 979.2,360.5 982.3,363.4C986.1,367.0 988.9,371.6 991.5,376.2C993.5,379.6 994.6,383.5 996.0,387.2L1008.0,420.3C1009.3,423.8 1009.6,427.6 1009.8,431.3C1010.0,434.5 1009.7,437.8 1009.3,441.0L994.9,560.0L980.7,664.6L980.2,686.6L962.4,684.8L964.6,648.1L976.5,560.0L993.2,446.0C993.7,442.7 994.5,439.4 994.5,436.0C994.5,432.9 994.4,429.6 993.3,426.7L978.6,387.2C977.3,383.7 974.9,380.6 972.2,378.1C969.9,375.9 966.6,375.2 963.9,373.5C961.5,372.0 959.5,369.9 957.0,368.5L946.5,362.5L830.0,295.5L774.2,263.5Z" fill="#fff" stroke="none"/>
<path d="M783.0,248.4L857.5,290.0L971.3,357.0C975.0,359.2 979.2,360.5 982.3,363.4C986.1,367.0 988.9,371.6 991.5,376.2C993.5,379.6 994.6,383.5 996.0,387.2L1008.0,420.3C1009.3,423.8 1009.6,427.6 1009.8,431.3C1010.0,434.5 1009.7,437.8 1009.3,441.0L994.9,560.0L980.7,664.6L980.2,686.6" fill="none" stroke="#222" stroke-width="1.0" stroke-linecap="round" stroke-linejoin="round" />
<path d="M774.2,263.5L830.0,295.5L946.5,362.5L957.0,368.5C959.5,369.9 961.5,372.0 963.9,373.5C966.6,375.2 969.9,375.9 972.2,378.1C974.9,380.6 977.3,383.7 978.6,387.2L993.3,426.7C994.4,429.6 994.5,432.9 994.5,436.0C994.5,439.4 993.7,442.7 993.2,446.0L976.5,560.0L964.6,648.1L962.4,684.8" fill="none" stroke="#222" stroke-width="1.0" stroke-linecap="round" stroke-linejoin="round" />
<path d="M783.0,248.4C780.4,250.7 777.0,252.4 775.2,255.4C773.8,257.8 774.5,260.8 774.2,263.5" fill="none" stroke="#222" stroke-width="1.0" stroke-linecap="round" stroke-linejoin="round" />
<path d="M992.4,379.0C990.3,381.2 988.7,384.1 986.0,385.5C983.8,386.7 981.1,386.0 978.6,386.3" fill="none" stroke="#222" stroke-width="0.8" stroke-linecap="round" stroke-linejoin="round" />
<path d="M993.3,426.7C996.1,427.1 999.0,428.8 1001.6,427.8C1004.5,426.7 1005.9,423.4 1008.0,421.2" fill="none" stroke="#222" stroke-width="0.8" stroke-linecap="round" stroke-linejoin="round" />
<path d="M994.2,442.3C996.6,443.0 999.0,444.5 1001.5,444.3C1004.3,444.1 1006.6,442.1 1009.2,441.0" fill="none" stroke="#222" stroke-width="0.8" stroke-linecap="round" stroke-linejoin="round" />
<path d="M962.4,684.8Q970.1,693 980.2,686.6Z" fill="#fff" stroke="none"/>
<path d="M962.4,684.8C965.0,686.7 966.9,690.2 970.1,690.5C973.7,690.9 976.8,687.9 980.2,686.6" fill="none" stroke="#222" stroke-width="1.0" stroke-linecap="round" stroke-linejoin="round" />
<path d="M962.8,662.8C965.5,664.4 967.9,667.2 971.0,667.5C974.4,667.8 977.5,665.6 980.7,664.6" fill="none" stroke="#222" stroke-width="0.8" stroke-linecap="round" stroke-linejoin="round" />
<path d="M962.6,668.5C965.4,670.0 967.8,672.7 971.0,673.0C974.3,673.3 977.3,671.0 980.5,670.0" fill="none" stroke="#222" stroke-width="0.8" stroke-linecap="round" stroke-linejoin="round" />
<ellipse cx="965.1" cy="681.5" rx="1.7" ry="1.1" transform="rotate(20 965.1 681.5)" fill="#fff" stroke="#222" stroke-width="0.7"/>
<path d="M902.5,385.4L947.4,362.5C949.8,361.3 951.9,365.7 953.2,368.0C954.4,370.2 957.0,374.1 954.8,375.3L911.7,400.1L902.5,385.4Z" fill="#fff" stroke="#222" stroke-width="0" stroke-linejoin="round"/>
<path d="M902.5,385.4L947.4,362.5" fill="none" stroke="#222" stroke-width="1.0" stroke-linecap="round" stroke-linejoin="round" />
<path d="M911.7,400.1L954.8,375.3" fill="none" stroke="#222" stroke-width="1.0" stroke-linecap="round" stroke-linejoin="round" />
<path d="M947.4,362.5C949.3,364.3 951.9,365.7 953.2,368.0C954.4,370.2 954.3,372.9 954.8,375.3" fill="none" stroke="#222" stroke-width="0.8" stroke-linecap="round" stroke-linejoin="round" />
<path d="M954.8,375.3C956.4,374.6 957.8,373.5 959.5,373.2C960.9,372.9 962.4,373.4 963.9,373.5" fill="none" stroke="#222" stroke-width="1.0" stroke-linecap="round" stroke-linejoin="round" />
<ellipse cx="906.7" cy="392.8" rx="4.2" ry="8.2" transform="rotate(-27 906.7 392.8)" fill="#fff" stroke="#222" stroke-width="1.0"/>
<path d="M884.1,394.6L901.6,385.4L908.9,390.0L910.7,400.1L892.4,409.3L885.0,405.6Z" fill="#fff" stroke="#222" stroke-width="1.2" stroke-linejoin="round"/>
<path d="M887.0,397.0L901.0,389.8L906.3,392.6L907.2,399.0L892.6,406.4L887.6,403.8Z" fill="#333" stroke="#222" stroke-width="0.5" stroke-linejoin="round"/>
<path d="M890.5,398.6L900.6,393.4" fill="none" stroke="#fff" stroke-width="1" stroke-linecap="round" stroke-linejoin="round" />
<path d="M891.5,402.8L902.0,397.5" fill="none" stroke="#fff" stroke-width="1" stroke-linecap="round" stroke-linejoin="round" />
<circle cx="912.5" cy="402.5" r="0.8" fill="#111"/>
<path d="M764.7,240.0L783.0,248.4L776.5,254.0L774.9,259.1L764.7,252.5Z" fill="#fff" stroke="#222" stroke-width="1.2" stroke-linejoin="round"/>
<path d="M766.3,243.0L777.5,248.3L773.3,255.6L766.3,251.0Z" fill="#333" stroke="#222" stroke-width="0.5" stroke-linejoin="round"/>
<path d="M768.0,246.0L774.5,249.2" fill="none" stroke="#ddd" stroke-width="1" stroke-linecap="round" stroke-linejoin="round" />
<path d="M768.0,249.5L772.0,251.7" fill="none" stroke="#ddd" stroke-width="1" stroke-linecap="round" stroke-linejoin="round" />
<path d="M972.8,575.6L940.7,593.0C938.0,594.5 935.6,596.4 933.4,598.5L900.4,629.7C896.9,633.0 893.3,636.4 891.2,640.7C888.9,645.2 888.5,650.5 887.5,655.4L882.9,677.4C882.0,681.7 882.7,686.5 884.8,690.3C886.7,693.7 890.2,696.5 893.9,697.6C897.2,698.5 901.1,697.6 904.0,695.8L933.4,677.4L962.8,662.8L962.8,662.8C964.3,661.9 966.1,661.3 967.3,660.0C968.4,658.7 969.6,657.0 969.2,655.4C968.6,652.8 967.0,647.9 964.6,649.0L929.7,664.6L903.1,682.0C901.0,683.3 899.1,686.0 896.7,685.7C895.1,685.5 895.5,682.6 895.8,681.1L899.4,662.8C900.4,657.8 901.2,652.8 903.1,648.1C904.6,644.4 906.6,640.7 909.5,638.0L939.8,609.5C941.8,607.6 943.8,605.5 946.2,604.0L978.3,583.9Z" fill="#fff" stroke="none"/>
<path d="M972.8,575.6L940.7,593.0C938.0,594.5 935.6,596.4 933.4,598.5L900.4,629.7C896.9,633.0 893.3,636.4 891.2,640.7C888.9,645.2 888.5,650.5 887.5,655.4L882.9,677.4C882.0,681.7 882.7,686.5 884.8,690.3C886.7,693.7 890.2,696.5 893.9,697.6C897.2,698.5 901.1,697.6 904.0,695.8L933.4,677.4L962.8,662.8" fill="none" stroke="#222" stroke-width="1.0" stroke-linecap="round" stroke-linejoin="round" />
<path d="M978.3,583.9L946.2,604.0C943.8,605.5 941.8,607.6 939.8,609.5L909.5,638.0C906.6,640.7 904.6,644.4 903.1,648.1C901.2,652.8 900.4,657.8 899.4,662.8L895.8,681.1C895.5,682.6 895.1,685.5 896.7,685.7C899.1,686.0 901.0,683.3 903.1,682.0L929.7,664.6L964.6,649.0C967.0,647.9 968.6,652.8 969.2,655.4C969.6,657.0 968.4,658.7 967.3,660.0C966.1,661.3 964.3,661.9 962.8,662.8" fill="none" stroke="#222" stroke-width="1.0" stroke-linecap="round" stroke-linejoin="round" />
<path d="M972.8,575.6C974.4,575.8 976.2,575.4 977.5,576.3C978.7,577.1 979.5,578.6 979.6,580.0C979.7,581.4 979.6,583.5 978.3,583.9C976.5,584.4 974.8,582.6 973.0,582.0Z" fill="#fff" stroke="#222" stroke-width="0" stroke-linejoin="round"/>
<path d="M972.8,575.6C974.4,575.8 976.2,575.4 977.5,576.3C978.7,577.1 979.5,578.6 979.6,580.0C979.7,581.4 978.7,582.6 978.3,583.9" fill="none" stroke="#222" stroke-width="1.0" stroke-linecap="round" stroke-linejoin="round" />
<path d="M940.7,593.0L946.2,604.0" fill="none" stroke="#222" stroke-width="0.8" stroke-linecap="round" stroke-linejoin="round" />
<path d="M938.5,594.5L944.0,605.6" fill="none" stroke="#222" stroke-width="0.8" stroke-linecap="round" stroke-linejoin="round" />
<path d="M900.4,629.7L909.5,638.0" fill="none" stroke="#222" stroke-width="0.8" stroke-linecap="round" stroke-linejoin="round" />
<path d="M889.4,650.8L901.3,651.7" fill="none" stroke="#222" stroke-width="0.8" stroke-linecap="round" stroke-linejoin="round" />
<path d="M883.9,677.4L895.8,679.3" fill="none" stroke="#222" stroke-width="0.8" stroke-linecap="round" stroke-linejoin="round" />
<path d="M904.0,682.0L909.5,691.2" fill="none" stroke="#222" stroke-width="0.8" stroke-linecap="round" stroke-linejoin="round" />
<path d="M928.8,663.9L935.2,672.9" fill="none" stroke="#222" stroke-width="0.8" stroke-linecap="round" stroke-linejoin="round" />
<path d="M930.8,663.0L937.2,671.8" fill="none" stroke="#222" stroke-width="0.8" stroke-linecap="round" stroke-linejoin="round" />
<path d="M778.8,235.9L793.5,227.1L791.5,223.7L776.8,232.5Z" fill="#fff" stroke="#222" stroke-width="1.7" stroke-linejoin="round"/>
<ellipse cx="792.5" cy="225.4" rx="1.4" ry="2.0" transform="rotate(-30.90640341858366 792.5 225.4)" fill="#fff" stroke="#222" stroke-width="1.7"/>
<path d="M779.3,236.7L782.2,234.9L779.2,230.0L776.3,231.7Z" fill="#fff" stroke="#222" stroke-width="1.7" stroke-linejoin="round"/>
<ellipse cx="777.8" cy="234.2" rx="1.6" ry="2.9" transform="rotate(-30.90640341858366 777.8 234.2)" fill="#fff" stroke="#222" stroke-width="1.7"/>
<path d="M786.1,240.4L801.4,232.3L799.6,228.7L784.3,236.8Z" fill="#fff" stroke="#222" stroke-width="1.7" stroke-linejoin="round"/>
<ellipse cx="800.5" cy="230.5" rx="1.4" ry="2.0" transform="rotate(-27.897271030947685 800.5 230.5)" fill="#fff" stroke="#222" stroke-width="1.7"/>
<path d="M786.6,241.2L789.6,239.6L786.8,234.4L783.8,236.0Z" fill="#fff" stroke="#222" stroke-width="1.7" stroke-linejoin="round"/>
<ellipse cx="785.2" cy="238.6" rx="1.6" ry="2.9" transform="rotate(-27.897271030947685 785.2 238.6)" fill="#fff" stroke="#222" stroke-width="1.7"/>
<path d="M806.3,195.0L790.5,226.0" fill="none" stroke="#222" stroke-width="1.4" stroke-linecap="round" stroke-linejoin="round" />
<path d="M876.7,259.8L877.2,301.6" fill="none" stroke="#222" stroke-width="1.4" stroke-linecap="round" stroke-linejoin="round" />
<path d="M1021.6,403.2L1024.6,401.2L1028.4,402.4L1029.4,406.0L1027.6,409.4L1023.8,410.0L1021.2,407.4Z" fill="#fff" stroke="#222" stroke-width="1.2" stroke-linejoin="round"/>
<path d="M1023.0,404.6L1027.8,406.4" fill="none" stroke="#222" stroke-width="0.9" stroke-linecap="round" stroke-linejoin="round" />
<path d="M1024.6,401.4L1024.0,405.0" fill="none" stroke="#222" stroke-width="0.8" stroke-linecap="round" stroke-linejoin="round" />
<path d="M1026.0,406.0L1025.4,409.6" fill="none" stroke="#222" stroke-width="0.8" stroke-linecap="round" stroke-linejoin="round" />
<path d="M1023.6,361.6L1023.6,401.0" fill="none" stroke="#222" stroke-width="1.4" stroke-linecap="round" stroke-linejoin="round" />
<path d="M1021.7,409.3L1008.9,416.6" fill="none" stroke="#222" stroke-width="0.9" stroke-linecap="round" stroke-linejoin="round" />
<ellipse cx="951.1" cy="386.3" rx="3.6" ry="3.2" transform="rotate(0 951.1 386.3)" fill="#fff" stroke="#222" stroke-width="0.9"/>
<ellipse cx="951.1" cy="386.3" rx="1.7" ry="1.5" transform="rotate(0 951.1 386.3)" fill="#fff" stroke="#222" stroke-width="0.7"/>
<path d="M945.6,390.0L932.8,396.4" fill="none" stroke="#222" stroke-width="0.7" stroke-linecap="round" stroke-linejoin="round" />
<path d="M758.4,374.0L789.2,357.1L947.4,452.4L969.4,439.5" fill="none" stroke="#222" stroke-width="0.8" stroke-linecap="round" stroke-linejoin="round" />
<circle cx="969.4" cy="439.5" r="1.0" fill="#111"/>
<path d="M764.3,385.7L796.5,366.6L893.0,410.0" fill="none" stroke="#222" stroke-width="0.8" stroke-linecap="round" stroke-linejoin="round" />
<path d="M848.4,616.1L823.5,642.8" fill="none" stroke="#222" stroke-width="1.4" stroke-linecap="round" stroke-linejoin="round" />
<ellipse cx="822.8" cy="624.2" rx="2.5" ry="1.6" transform="rotate(0 822.8 624.2)" fill="#fff" stroke="#222" stroke-width="0.9"/>
<path d="M820.4,624.5L820.6,633.6" fill="none" stroke="#222" stroke-width="0.8" stroke-linecap="round" stroke-linejoin="round" />
<path d="M825.2,624.5L825.0,633.6" fill="none" stroke="#222" stroke-width="0.8" stroke-linecap="round" stroke-linejoin="round" />
<path d="M820.6,633.6L825.0,633.6" fill="none" stroke="#222" stroke-width="0.8" stroke-linecap="round" stroke-linejoin="round" />
<path d="M793.5,599.6L820.6,623.7" fill="none" stroke="#222" stroke-width="1.4" stroke-linecap="round" stroke-linejoin="round" />
<ellipse cx="822.1" cy="650.8" rx="3.3" ry="3.1" transform="rotate(0 822.1 650.8)" fill="#fff" stroke="#222" stroke-width="1.0"/>
<path d="M819.8,649.5L824.4,649.5" fill="none" stroke="#222" stroke-width="0.7" stroke-linecap="round" stroke-linejoin="round" />
<path d="M819.8,652.0L824.4,652.0" fill="none" stroke="#222" stroke-width="0.7" stroke-linecap="round" stroke-linejoin="round" />
<path d="M769.3,657.9L819.1,651.6" fill="none" stroke="#222" stroke-width="1.4" stroke-linecap="round" stroke-linejoin="round" />
<path d="M939.0,706.4L958.2,692.6L956.2,689.8L937.0,703.6Z" fill="#fff" stroke="#222" stroke-width="0.9" stroke-linejoin="round"/>
<ellipse cx="957.2" cy="691.2" rx="1.4" ry="1.7" transform="rotate(-35.70669140060273 957.2 691.2)" fill="#fff" stroke="#222" stroke-width="0.9"/>
<path d="M939.6,707.3L941.7,705.8L938.5,701.2L936.4,702.7Z" fill="#fff" stroke="#222" stroke-width="0.9" stroke-linejoin="round"/>
<ellipse cx="938" cy="705" rx="1.6" ry="2.8" transform="rotate(-35.70669140060273 938 705)" fill="#fff" stroke="#222" stroke-width="0.9"/>
<path d="M940.7,705.9L977.4,716.9" fill="none" stroke="#222" stroke-width="1.4" stroke-linecap="round" stroke-linejoin="round" />
<circle cx="989" cy="666.1" r="3.6" fill="#111"/>
<path d="M990.3,668.3L1010.5,690.3" fill="none" stroke="#222" stroke-width="1.4" stroke-linecap="round" stroke-linejoin="round" />
<path d="M365.7,163.9L418.4,192.5C421.5,194.2 424.7,195.9 427.2,198.4C430.2,201.4 432.6,204.9 434.5,208.6C436.6,212.7 437.9,217.3 438.9,221.8C439.6,225.1 440.0,228.6 439.7,232.0C439.5,234.4 438.7,236.9 437.5,239.0C436.4,240.9 434.9,242.5 433.1,243.8C430.9,245.4 428.3,246.7 425.7,247.4C423.8,247.9 421.8,247.8 419.9,247.4C417.3,246.8 414.9,245.7 412.6,244.5L392.0,233.5L373.0,221.8C368.2,218.8 362.9,216.4 358.4,213.0C355.1,210.5 352.0,207.6 349.6,204.2C347.5,201.2 346.1,197.6 345.2,194.0C344.4,190.7 344.2,187.1 344.7,183.7C345.2,180.1 346.5,176.7 348.1,173.4C349.2,171.2 350.7,169.2 352.5,167.6C354.2,166.1 356.2,165.0 358.4,164.4C360.7,163.7 363.3,164.1 365.7,163.9Z" fill="#fff" stroke="#222" stroke-width="1.5" stroke-linejoin="round"/>
<path d="M357.5,173.6C360.3,173.5 363.3,172.1 365.7,173.3L413.7,197.2C417.6,199.1 419.6,203.7 421.4,207.7C423.1,211.5 424.0,215.7 424.1,219.9L424.4,232.0C424.5,235.0 423.3,238.1 421.7,240.7C420.5,242.7 418.1,243.6 416.3,245.1" fill="none" stroke="#222" stroke-width="0.8" stroke-linecap="round" stroke-linejoin="round" />
<path d="M356.7,168.9C359.7,168.7 363.0,166.9 365.7,168.3L416.2,194.7C421.1,197.2 424.7,202.0 427.5,206.8C430.1,211.0 431.7,216.0 432.0,220.9L432.5,232.0C432.7,235.6 430.6,239.2 428.2,241.9C426.2,244.3 422.7,244.9 419.9,246.3" fill="none" stroke="#222" stroke-width="0.8" stroke-linecap="round" stroke-linejoin="round" />
<path d="M365.7,178.6L411.1,199.8C414.0,201.1 414.0,205.5 414.8,208.6C415.6,211.9 415.8,215.5 415.8,218.9L415.8,232.0C415.8,234.5 415.5,237.0 414.8,239.4C414.4,241.0 414.0,244.6 412.6,243.8L392.0,232.0L368.6,218.2C364.5,215.8 360.4,213.3 356.9,210.1C354.7,208.1 352.9,205.5 351.8,202.7C350.6,199.5 350.3,195.9 350.3,192.5C350.3,190.0 351.0,187.6 351.8,185.2C352.3,183.8 353.0,182.5 354.0,181.5C355.2,180.3 356.7,179.0 358.4,178.6C360.8,178.0 363.3,178.6 365.7,178.6" fill="none" stroke="#222" stroke-width="1.1" stroke-linecap="round" stroke-linejoin="round" />
<path d="M360.5,178.3L360.5,164.3" fill="none" stroke="#222" stroke-width="0.8" stroke-linecap="round" stroke-linejoin="round" />
<path d="M411.1,199.8L419.2,192.8" fill="none" stroke="#222" stroke-width="0.8" stroke-linecap="round" stroke-linejoin="round" />
<path d="M415.6,216.0L437.8,217.0" fill="none" stroke="#222" stroke-width="0.8" stroke-linecap="round" stroke-linejoin="round" />
<path d="M415.8,232.0L439.6,233.5" fill="none" stroke="#222" stroke-width="0.8" stroke-linecap="round" stroke-linejoin="round" />
<path d="M414.8,239.4L430.5,245.8" fill="none" stroke="#222" stroke-width="0.8" stroke-linecap="round" stroke-linejoin="round" />
<path d="M350.6,195.0L345.3,196.0" fill="none" stroke="#222" stroke-width="0.8" stroke-linecap="round" stroke-linejoin="round" />
<path d="M353.0,183.3L348.6,172.7" fill="none" stroke="#222" stroke-width="0.8" stroke-linecap="round" stroke-linejoin="round" />
<ellipse cx="384.2" cy="208.1" rx="15.2" ry="5.9" transform="rotate(33 384.2 208.1)" fill="none" stroke="#222" stroke-width="1.0"/>
<ellipse cx="384.4" cy="208.3" rx="12.6" ry="4.2" transform="rotate(33 384.4 208.3)" fill="none" stroke="#222" stroke-width="1.0"/>
<ellipse cx="378.6" cy="204.4" rx="4.6" ry="2.9" transform="rotate(33 378.6 204.4)" fill="#fff" stroke="#222" stroke-width="0.7"/>
<ellipse cx="391.3" cy="212.6" rx="5.6" ry="3.9" transform="rotate(33 391.3 212.6)" fill="#2a2a2a" stroke="#222" stroke-width="0.6"/>
<path d="M388.4,210.6L394.4,214.4" fill="none" stroke="#fff" stroke-width="1.0" stroke-linecap="round" stroke-linejoin="round" />
<path d="M390.0,214.6L393.0,210.4" fill="none" stroke="#fff" stroke-width="0.9" stroke-linecap="round" stroke-linejoin="round" />
<ellipse cx="389.6" cy="208.3" rx="2.4" ry="1.7" transform="rotate(33 389.6 208.3)" fill="#fff" stroke="#222" stroke-width="0.8"/>
<path d="M381.5,204.0L386.5,208.6" fill="none" stroke="#222" stroke-width="1.3" stroke-linecap="round" stroke-linejoin="round" />
<text transform="translate(364.0,188.0) rotate(30.5) skewX(-15)" font-size="6.3" font-weight="bold" textLength="46.5" lengthAdjust="spacingAndGlyphs" style="fill:#111;stroke:#111;stroke-width:0.55">RANGER</text>
<ellipse cx="331.2" cy="229.9" rx="1.7" ry="3.0" transform="rotate(-27 331.2 229.9)" fill="#fff" stroke="#222" stroke-width="1.2"/>
<ellipse cx="332.8" cy="229.1" rx="1.0" ry="2.2" transform="rotate(-27 332.8 229.1)" fill="#fff" stroke="#222" stroke-width="0.9"/>
<path d="M333.2,227.7L341.5,224.7L334.2,230.2Z" fill="#fff" stroke="#222" stroke-width="1"/>
<ellipse cx="347.4" cy="237.2" rx="1.7" ry="3.0" transform="rotate(-27 347.4 237.2)" fill="#fff" stroke="#222" stroke-width="1.2"/>
<ellipse cx="349.0" cy="236.39999999999998" rx="1.0" ry="2.2" transform="rotate(-27 349.0 236.39999999999998)" fill="#fff" stroke="#222" stroke-width="0.9"/>
<path d="M349.4,235.0L356.9,232.1L350.4,237.5Z" fill="#fff" stroke="#222" stroke-width="1"/>
<path d="M344.4,222.5L373.0,207.1" fill="none" stroke="#222" stroke-width="0.7" stroke-linecap="round" stroke-linejoin="round" />
<path d="M360.5,230.6L386.2,215.9" fill="none" stroke="#222" stroke-width="0.7" stroke-linecap="round" stroke-linejoin="round" />
<path d="M708.7,360.4L761.4,389.0C764.5,390.7 767.7,392.4 770.2,394.9C773.2,397.9 775.6,401.4 777.5,405.1C779.6,409.2 780.9,413.8 781.9,418.3C782.6,421.6 783.0,425.1 782.7,428.5C782.5,430.9 781.7,433.4 780.5,435.5C779.4,437.4 777.9,439.0 776.1,440.3C773.9,441.9 771.3,443.2 768.7,443.9C766.8,444.4 764.8,444.3 762.9,443.9C760.3,443.3 757.9,442.2 755.6,441.0L735.0,430.0L716.0,418.3C711.2,415.3 705.9,412.9 701.4,409.5C698.1,407.0 695.0,404.1 692.6,400.7C690.5,397.7 689.1,394.1 688.2,390.5C687.4,387.2 687.2,383.6 687.7,380.2C688.2,376.6 689.5,373.2 691.1,369.9C692.2,367.7 693.7,365.7 695.5,364.1C697.2,362.6 699.2,361.5 701.4,360.9C703.7,360.2 706.3,360.6 708.7,360.4Z" fill="#fff" stroke="#222" stroke-width="1.5" stroke-linejoin="round"/>
<path d="M700.5,370.1C703.3,370.0 706.3,368.6 708.7,369.8L756.7,393.7C760.6,395.6 762.6,400.2 764.4,404.2C766.1,408.0 767.0,412.2 767.1,416.4L767.4,428.5C767.5,431.5 766.3,434.6 764.7,437.2C763.5,439.2 761.1,440.1 759.3,441.6" fill="none" stroke="#222" stroke-width="0.8" stroke-linecap="round" stroke-linejoin="round" />
<path d="M699.7,365.4C702.7,365.2 706.0,363.4 708.7,364.8L759.2,391.2C764.1,393.7 767.7,398.5 770.5,403.3C773.1,407.5 774.7,412.5 775.0,417.4L775.5,428.5C775.7,432.1 773.6,435.7 771.2,438.4C769.2,440.8 765.7,441.4 762.9,442.8" fill="none" stroke="#222" stroke-width="0.8" stroke-linecap="round" stroke-linejoin="round" />
<path d="M708.7,375.1L754.1,396.3C757.0,397.6 757.0,402.0 757.8,405.1C758.6,408.4 758.8,412.0 758.8,415.4L758.8,428.5C758.8,431.0 758.5,433.5 757.8,435.9C757.4,437.5 757.0,441.1 755.6,440.3L735.0,428.5L711.6,414.7C707.5,412.3 703.4,409.8 699.9,406.6C697.7,404.6 695.9,402.0 694.8,399.2C693.6,396.0 693.3,392.4 693.3,389.0C693.3,386.5 694.0,384.1 694.8,381.7C695.3,380.3 696.0,379.0 697.0,378.0C698.2,376.8 699.7,375.5 701.4,375.1C703.8,374.5 706.3,375.1 708.7,375.1" fill="none" stroke="#222" stroke-width="1.1" stroke-linecap="round" stroke-linejoin="round" />
<path d="M703.5,374.8L703.5,360.8" fill="none" stroke="#222" stroke-width="0.8" stroke-linecap="round" stroke-linejoin="round" />
<path d="M754.1,396.3L762.2,389.3" fill="none" stroke="#222" stroke-width="0.8" stroke-linecap="round" stroke-linejoin="round" />
<path d="M758.6,412.5L780.8,413.5" fill="none" stroke="#222" stroke-width="0.8" stroke-linecap="round" stroke-linejoin="round" />
<path d="M758.8,428.5L782.6,430.0" fill="none" stroke="#222" stroke-width="0.8" stroke-linecap="round" stroke-linejoin="round" />
<path d="M757.8,435.9L773.5,442.3" fill="none" stroke="#222" stroke-width="0.8" stroke-linecap="round" stroke-linejoin="round" />
<path d="M693.6,391.5L688.3,392.5" fill="none" stroke="#222" stroke-width="0.8" stroke-linecap="round" stroke-linejoin="round" />
<path d="M696.0,379.8L691.6,369.2" fill="none" stroke="#222" stroke-width="0.8" stroke-linecap="round" stroke-linejoin="round" />
<ellipse cx="727.2" cy="404.6" rx="15.2" ry="5.9" transform="rotate(33 727.2 404.6)" fill="none" stroke="#222" stroke-width="1.0"/>
<ellipse cx="727.4" cy="404.8" rx="12.6" ry="4.2" transform="rotate(33 727.4 404.8)" fill="none" stroke="#222" stroke-width="1.0"/>
<ellipse cx="721.6" cy="400.9" rx="4.6" ry="2.9" transform="rotate(33 721.6 400.9)" fill="#fff" stroke="#222" stroke-width="0.7"/>
<ellipse cx="734.3" cy="409.1" rx="5.6" ry="3.9" transform="rotate(33 734.3 409.1)" fill="#2a2a2a" stroke="#222" stroke-width="0.6"/>
<path d="M731.4,407.1L737.4,410.9" fill="none" stroke="#fff" stroke-width="1.0" stroke-linecap="round" stroke-linejoin="round" />
<path d="M733.0,411.1L736.0,406.9" fill="none" stroke="#fff" stroke-width="0.9" stroke-linecap="round" stroke-linejoin="round" />
<ellipse cx="732.6" cy="404.8" rx="2.4" ry="1.7" transform="rotate(33 732.6 404.8)" fill="#fff" stroke="#222" stroke-width="0.8"/>
<path d="M724.5,400.5L729.5,405.1" fill="none" stroke="#222" stroke-width="1.3" stroke-linecap="round" stroke-linejoin="round" />
<text transform="translate(707.0,384.5) rotate(30.5) skewX(-15)" font-size="6.3" font-weight="bold" textLength="46.5" lengthAdjust="spacingAndGlyphs" style="fill:#111;stroke:#111;stroke-width:0.55">RANGER</text>
<ellipse cx="674.2" cy="426.4" rx="1.7" ry="3.0" transform="rotate(-27 674.2 426.4)" fill="#fff" stroke="#222" stroke-width="1.2"/>
<ellipse cx="675.8000000000001" cy="425.59999999999997" rx="1.0" ry="2.2" transform="rotate(-27 675.8000000000001 425.59999999999997)" fill="#fff" stroke="#222" stroke-width="0.9"/>
<path d="M676.2,424.2L684.5,421.2L677.2,426.7Z" fill="#fff" stroke="#222" stroke-width="1"/>
<ellipse cx="690.4" cy="433.7" rx="1.7" ry="3.0" transform="rotate(-27 690.4 433.7)" fill="#fff" stroke="#222" stroke-width="1.2"/>
<ellipse cx="692.0" cy="432.9" rx="1.0" ry="2.2" transform="rotate(-27 692.0 432.9)" fill="#fff" stroke="#222" stroke-width="0.9"/>
<path d="M692.4,431.5L699.9,428.6L693.4,434.0Z" fill="#fff" stroke="#222" stroke-width="1"/>
<path d="M687.4,419.0L716.0,403.6" fill="none" stroke="#222" stroke-width="0.7" stroke-linecap="round" stroke-linejoin="round" />
<path d="M703.5,427.1L729.2,412.4" fill="none" stroke="#222" stroke-width="0.7" stroke-linecap="round" stroke-linejoin="round" />
<path d="M642.9,348.3L692.5,372.5" fill="none" stroke="#222" stroke-width="1.4" stroke-linecap="round" stroke-linejoin="round" />
<path d="M672.9,428.3L639.9,434.7L687.4,437.7" fill="none" stroke="#222" stroke-width="1.4" stroke-linecap="round" stroke-linejoin="round" />
<path d="M579.1,445.2C581.4,446.3 583.4,448.4 586.0,448.6C588.6,448.9 591.1,447.3 593.7,446.6" fill="none" stroke="#222" stroke-width="0.8" stroke-linecap="round" stroke-linejoin="round" />
<path d="M579.8,451.8C581.9,452.7 583.7,454.5 586.0,454.6C588.4,454.7 590.7,453.2 593.0,452.5" fill="none" stroke="#222" stroke-width="0.8" stroke-linecap="round" stroke-linejoin="round" />
<path d="M579.8,452.5L580.5,468.6L586.4,474.5L589.3,474.5L598.1,468.6L596.7,458.4L593.0,452.5Z" fill="#fff" stroke="#222" stroke-width="1.0" stroke-linejoin="round"/>
<path d="M586.4,474.5L584.6,459.5L580.2,456.5" fill="none" stroke="#222" stroke-width="0.8" stroke-linecap="round" stroke-linejoin="round" />
<path d="M584.6,459.5L596.7,458.4" fill="none" stroke="#222" stroke-width="0.8" stroke-linecap="round" stroke-linejoin="round" />
<path d="M568.1,463.5L576.9,458.4L580.4,460.4L580.5,468.6L578.5,469.2Z" fill="#fff" stroke="#222" stroke-width="0.9" stroke-linejoin="round"/>
<path d="M577.5,462.0L577.8,467.0" fill="none" stroke="#222" stroke-width="0.9" stroke-linecap="round" stroke-linejoin="round" />
<ellipse cx="563.7" cy="439.3" rx="1.9" ry="1.2" transform="rotate(0 563.7 439.3)" fill="#fff" stroke="#222" stroke-width="0.9"/>
<path d="M561.9,439.6L562.2,447.6L574.0,455.4" fill="none" stroke="#222" stroke-width="0.9" stroke-linecap="round" stroke-linejoin="round" />
<path d="M565.5,439.6L565.4,447.0" fill="none" stroke="#222" stroke-width="0.9" stroke-linecap="round" stroke-linejoin="round" />
<path d="M519.0,443.6L561.5,439.3" fill="none" stroke="#222" stroke-width="1.4" stroke-linecap="round" stroke-linejoin="round" />
<ellipse cx="571.5" cy="478.1" rx="3.2" ry="3.0" transform="rotate(0 571.5 478.1)" fill="#fff" stroke="#222" stroke-width="1.0"/>
<path d="M569.3,477.0L573.7,477.0" fill="none" stroke="#222" stroke-width="0.7" stroke-linecap="round" stroke-linejoin="round" />
<path d="M569.3,479.3L573.7,479.3" fill="none" stroke="#222" stroke-width="0.7" stroke-linecap="round" stroke-linejoin="round" />
<path d="M573.8,480.5L605.5,492.0" fill="none" stroke="#222" stroke-width="1.4" stroke-linecap="round" stroke-linejoin="round" />
<text x="471.6" y="38.8" font-size="20.5" text-anchor="middle">7</text>
<text x="243.7" y="115.6" font-size="20.5" text-anchor="middle">6</text>
<text x="173.6" y="177.9" font-size="20.5" text-anchor="middle">2</text>
<text x="445.1" y="144.5" font-size="20.5" text-anchor="middle">5</text>
<text x="427.7" y="295.1" font-size="20.5" text-anchor="middle">5</text>
<text x="508.9" y="409.8" font-size="20.5" text-anchor="middle">4</text>
<text x="474" y="430.5" font-size="20.5" text-anchor="middle">3</text>
<text x="511" y="450.9" font-size="20.5" text-anchor="middle">1</text>
<text x="615" y="500.1" font-size="20.5" text-anchor="middle">4</text>
<text x="433.4" y="548.9" font-size="20.5" text-anchor="middle">6</text>
<text x="25.7" y="493.3" font-size="20.5" text-anchor="middle">6</text>
<text x="134.9" y="571.8" font-size="20.5" text-anchor="middle">5</text>
<text x="677.6" y="237.6" font-size="20.5" text-anchor="middle">5</text>
<text x="815" y="187.3" font-size="20.5" text-anchor="middle">6</text>
<text x="873.8" y="252.5" font-size="20.5" text-anchor="middle">10</text>
<text x="1022.7" y="355.1" font-size="20.5" text-anchor="middle">12</text>
<text x="633.3" y="354.3" font-size="20.5" text-anchor="middle">8</text>
<text x="627" y="438.1" font-size="20.5" text-anchor="middle">9</text>
<text x="683.1" y="492.8" font-size="20.5" text-anchor="middle">5</text>
<text x="824.5" y="481.3" font-size="20.5" text-anchor="middle">6</text>
<text x="786.9" y="605.4" font-size="20.5" text-anchor="middle">1</text>
<text x="760.5" y="664.0" font-size="20.5" text-anchor="middle">4</text>
<text x="1020.6" y="703.1" font-size="20.5" text-anchor="middle">4</text>
<text x="986.6" y="724.2" font-size="20.5" text-anchor="middle">3</text>
<text x="676.7" y="711.8" font-size="20.5" text-anchor="middle">11</text>
<text x="454.2" y="861.8" font-size="20.5" text-anchor="middle">5</text>
<text x="593.8" y="865.4" font-size="20.5" text-anchor="middle">6</text>
<text x="58.5" y="916.3" font-size="23.5">©</text>
<text x="80" y="915" font-size="19" textLength="196" lengthAdjust="spacingAndGlyphs">2008 Polaris Sales Inc.</text>
<text transform="translate(158.2,795.7) rotate(-37.27) scale(1.0857,1)" y="0" font-size="64.2" font-weight="bold" style="font-family:'DejaVu Sans','Liberation Sans',sans-serif;fill:#a1a1a1;stroke:#3a3a3a;stroke-width:3.1;paint-order:stroke fill;stroke-linejoin:miter;opacity:0.33"><tspan x="0" textLength="188.6" lengthAdjust="spacingAndGlyphs">www</tspan><tspan x="187.9 211.2 256.6 300.7 322.5 365.7 397.4 419.3 457.0 500.2 532.0 569.9 612.3 645.2 685.1 730.6 752.5 774.0 816.5 839.8 884.7">.polarisersatzeile.de</tspan></text>
</g>
</svg>
</body></html>
